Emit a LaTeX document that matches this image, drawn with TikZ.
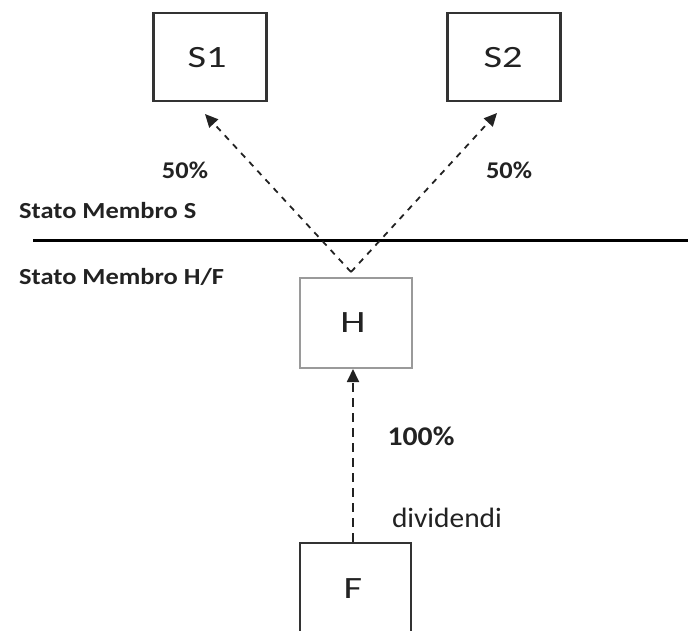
\documentclass[tikz,border=0pt]{standalone}
\usepackage{fontspec}
\setmainfont{Carlito}
\usetikzlibrary{arrows.meta}
\definecolor{ink}{HTML}{222222}
\definecolor{frame}{HTML}{333333}
\definecolor{paleframe}{HTML}{9A9A9A}
\tikzset{
  entity/.style={draw=frame, line width=2.5pt, minimum width=113pt, minimum height=88pt, inner sep=0pt, text=ink},
  entitylabel/.style={font=\fontsize{31}{33}\selectfont, text=ink, xscale=1.3, inner sep=0pt},
  share/.style={font=\bfseries\fontsize{24}{26}\selectfont, text=ink, xscale=1.1},
  statelabel/.style={font=\bfseries\fontsize{23}{25}\selectfont, text=ink, anchor=west, xscale=1.15},
  link/.style={dashed, dash pattern=on 6pt off 6pt, line width=1.8pt, draw=ink, -{Triangle[length=13pt,width=12pt]}},
}
\begin{document}
\begin{tikzpicture}[x=1pt, y=-1pt]
  \useasboundingbox (0,0) rectangle (688,631);
  \clip (0,0) rectangle (688,631);
  % companies
  \node[entity] (S1) at (210,57) {};
  \node[entity] (S2) at (504,57) {};
  \node[entity, draw=paleframe, line width=2pt, minimum width=112pt, minimum height=90pt] (H) at (355.5,323) {};
  \node[entity, minimum width=111pt, minimum height=94pt] (F) at (355.5,590) {};
  \node[entitylabel] (S1name) at (207,58) {S1};
  \node[entitylabel] (S2name) at (503,58) {S2};
  \node[entitylabel] (Hname) at (353,323) {H};
  \node[entitylabel] (Fname) at (353,589) {F};
  % border between the two member states
  \coordinate (borderW) at (33,241);
  \coordinate (borderE) at (688,241);
  \draw[line width=3pt, draw=black] (borderW) -- (borderE);
  \node[statelabel] (stateS) at (15,211) {Stato Membro S};
  \node[statelabel] (stateHF) at (15,277) {Stato Membro H/F};
  % shareholdings held in H
  \coordinate (apex) at (351,272);
  \coordinate (tipS1) at (205,114);
  \coordinate (tipS2) at (497,113);
  \draw[link] (apex) -- (tipS1);
  \draw[link] (apex) -- (tipS2);
  \node[share] (pS1) at (185,170) {50\%};
  \node[share] (pS2) at (509,170) {50\%};
  % dividends from F to H
  \draw[link, dash pattern=on 9pt off 6pt] (F.north -| 353,0) -- (H.south -| 353,0);
  \node[share, font=\bfseries\fontsize{27}{29}\selectfont] (pF) at (421,436) {100\%};
  \node[font=\fontsize{28}{30}\selectfont, text=ink, xscale=1.05] (div) at (447,518) {dividendi};
\end{tikzpicture}
\end{document}
